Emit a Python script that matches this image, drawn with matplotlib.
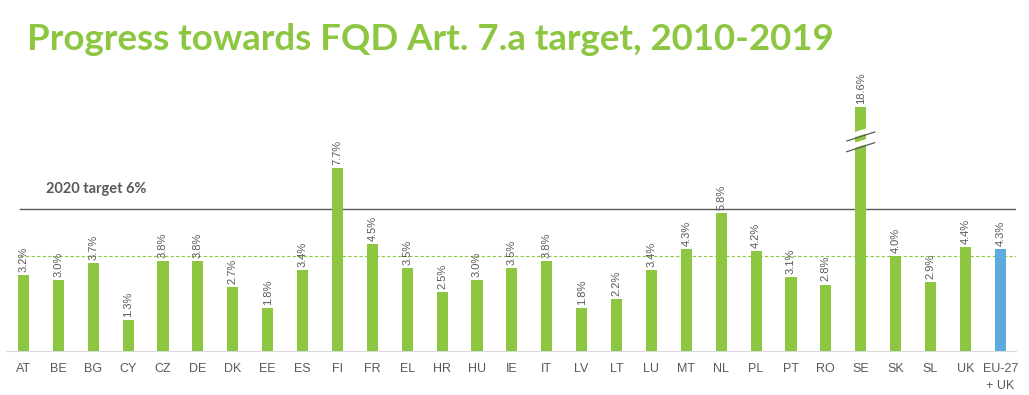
import matplotlib
matplotlib.use('Agg')
import matplotlib.pyplot as plt
import numpy as np

# data
countries = ["AT", "BE", "BG", "CY", "CZ", "DE", "DK", "EE", "ES", "FI",
             "FR", "EL", "HR", "HU", "IE", "IT", "LV", "LT", "LU", "MT",
             "NL", "PL", "PT", "RO", "SE", "SK", "SL", "UK", "EU-27\n+ UK"]
values = [3.2, 3.0, 3.7, 1.3, 3.8, 3.8, 2.7, 1.8, 3.4, 7.7,
          4.5, 3.5, 2.5, 3.0, 3.5, 3.8, 1.8, 2.2, 3.4, 4.3,
          5.8, 4.2, 3.1, 2.8, 18.6, 4.0, 2.9, 4.4, 4.3]
target = 6.0
ref_level = 4.0
broken_cap = 10.3  # SE drawn shortened with an axis break

GREEN = "#8DC641"
BLUE = "#5DAADC"
GRAY = "#595959"

plt.rcParams["font.family"] = ["Lato", "DejaVu Sans"]

fig = plt.figure(figsize=(10.29, 3.95), dpi=100)
ax = fig.add_axes([6 / 1029, 44 / 395, 1010 / 1029, 261 / 395])

x = np.arange(len(countries))
heights = [min(v, broken_cap) for v in values]
colors = [GREEN] * (len(values) - 1) + [BLUE]
ax.bar(x, heights, width=0.32, color=colors, zorder=3)

for xi, h, v in zip(x, heights, values):
    ax.text(xi, h + 0.13, f"{v:.1f}%", rotation=90, ha="center", va="bottom",
            fontsize=8, color=GRAY, family=["Liberation Sans", "DejaVu Sans"])

# axis break on SE
se = countries.index("SE")
for y0 in (8.45, 8.9):
    ax.fill([se - 0.2, se + 0.2, se + 0.2, se - 0.2],
            [y0 + 0.1, y0 + 0.28, y0 + 0.5, y0 + 0.32], color="white", zorder=4, lw=0)
ax.plot([se - 0.4, se + 0.4], [8.4, 8.78], color=GRAY, lw=0.9, zorder=5)
ax.plot([se - 0.4, se + 0.4], [8.85, 9.23], color=GRAY, lw=0.9, zorder=5)

# reference lines
ax.axhline(target, xmin=0.014, xmax=1.0, color=GRAY, lw=1.0, zorder=2)
ax.axhline(ref_level, xmin=0.014, xmax=1.0, color=GREEN, lw=0.8, ls=(0, (3, 2)), zorder=2)
ax.text(0.65, target + 0.55, "2020 target 6%", fontsize=10.5, color=GRAY,
        fontweight="bold", ha="left", va="bottom")

ax.set_xlim(-0.5, 28.45)
ax.set_ylim(0, 11)
ax.set_xticks(x)
ax.set_xticklabels(countries, fontsize=9, color=GRAY,
                   family=["Liberation Sans", "DejaVu Sans"], linespacing=1.5)
ax.tick_params(axis="x", length=0, pad=9)
ax.set_yticks([])
for s in ["top", "right", "left"]:
    ax.spines[s].set_visible(False)
ax.spines["bottom"].set_color("#D9D9D9")

fig.text(27 / 1029, 1 - 40 / 395, "Progress towards FQD Art. 7.a target, 2010-2019",
         fontsize=26.4, fontweight="bold", color="#8DC641", ha="left", va="center")

fig.savefig("out.png", dpi=100)
